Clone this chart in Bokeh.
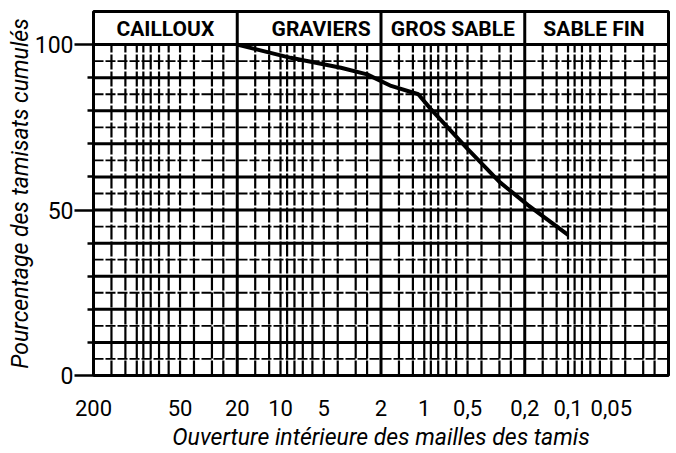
import numpy as np
from bokeh.plotting import figure
from bokeh.models import Range1d, FixedTicker, CustomJSTickFormatter
from bokeh.core.properties import value
from bokeh.embed import file_html
from bokeh.resources import INLINE

# ---- data ----
sizes_mm = [20, 8.5, 3.8, 2.5, 1.7, 1.1, 0.9, 0.5, 0.3, 0.19, 0.1]
passing_pct = [100, 96, 93, 91, 87.5, 85, 80.5, 68.5, 58.5, 51.5, 42.5]

x_tick_values = [200, 50, 20, 10, 5, 2, 1, 0.5, 0.2, 0.1, 0.05]
x_tick_labels = ["200", "50", "20", "10", "5", "2", "1", "0,5", "0,2", "0,1", "0,05"]
y_tick_values = [0, 50, 100]

classes = ["CAILLOUX", "GRAVIERS", "GROS SABLE", "SABLE  FIN"]
class_upper = [200, 20, 2, 0.2]
class_lower = [20, 2, 0.2, 0.02]

x_title = "Ouverture intérieure des mailles des tamis"
y_title = "Pourcentage des tamisats cumulés"

X_MAX, X_MIN = 200, 0.02
HEADER_TOP = 110

FONT = value("Roboto")

p = figure(width=672, height=453, x_axis_type="log",
           x_range=Range1d(X_MAX, X_MIN), y_range=Range1d(0, HEADER_TOP),
           output_backend="svg", toolbar_location=None,
           min_border_left=93, min_border_right=4, min_border_top=11, min_border_bottom=75,
           background_fill_color="white", border_fill_color="white")
p.xgrid.visible = False
p.ygrid.visible = False
p.outline_line_color = "black"
p.outline_line_width = 3

# ---- log grid (vertical lines) ----
mant = [1, 1.2, 1.5, 2, 2.5, 3, 4, 5, 6, 7, 8, 9]
vx = [m * 10.0 ** k for k in range(-2, 3) for m in mant]
vx = [v for v in vx if X_MIN < v < X_MAX and not any(abs(v - b) < 1e-9 for b in class_lower)]
p.segment(x0=vx, y0=[0] * len(vx), x1=vx, y1=[100] * len(vx),
          line_color="black", line_width=2.2, line_dash="15 2")

# horizontal grid
h_major = list(range(10, 101, 10))
h_minor = list(range(5, 100, 10))
p.segment(x0=[X_MAX] * len(h_minor), y0=h_minor, x1=[X_MIN] * len(h_minor), y1=h_minor,
          line_color="black", line_width=1.8, line_dash="10 2")
p.segment(x0=[X_MAX] * len(h_major), y0=h_major, x1=[X_MIN] * len(h_major), y1=h_major,
          line_color="black", line_width=3)

# class boundaries through header
bounds = class_lower[:-1]
p.segment(x0=bounds, y0=[0] * len(bounds), x1=bounds, y1=[HEADER_TOP] * len(bounds),
          line_color="black", line_width=3)

# header labels
label_x = [float(np.sqrt(a * b)) for a, b in zip(class_upper, class_lower)]
p.text(x=label_x, y=[104.7] * len(classes), text=classes,
       x_offset=[0, 12, 0, 0],
       text_align="center", text_baseline="middle",
       text_font=FONT, text_font_style="bold", text_font_size="21px", text_color="black")

# curve
p.line(sizes_mm, passing_pct, line_color="black", line_width=4)

# ---- axes ----
xa = p.xaxis[0]
xa.ticker = FixedTicker(ticks=x_tick_values, minor_ticks=[])
xa.formatter = CustomJSTickFormatter(args=dict(vals=x_tick_values, labs=x_tick_labels), code="""
const i = vals.findIndex(v => Math.abs(v - tick) < 1e-6 * Math.max(1, v));
return i >= 0 ? labs[i] : '';
""")
xa.axis_line_color = None
xa.major_tick_line_color = None
xa.minor_tick_line_color = None
xa.major_label_standoff = 18
xa.major_label_text_font = "Roboto"
xa.major_label_text_font_size = "22px"
xa.major_label_text_color = "black"
xa.axis_label = x_title
xa.axis_label_text_font = "Roboto"
xa.axis_label_text_font_style = "italic"
xa.axis_label_text_font_size = "23px"
xa.axis_label_text_color = "black"
xa.axis_label_standoff = 5

ya = p.yaxis[0]
ya.ticker = FixedTicker(ticks=y_tick_values, minor_ticks=[10, 20, 30, 40, 60, 70, 80, 90])
ya.axis_line_color = None
ya.major_tick_out = 19
ya.major_tick_in = 0
ya.major_tick_line_width = 2.5
ya.major_tick_line_color = "black"
ya.minor_tick_out = 6
ya.minor_tick_in = 0
ya.minor_tick_line_width = 2.5
ya.minor_tick_line_color = "black"
ya.major_label_standoff = 1
ya.major_label_text_font = "Roboto"
ya.major_label_text_font_size = "23px"
ya.major_label_text_color = "black"
ya.axis_label = y_title
ya.axis_label_text_font = "Roboto"
ya.axis_label_text_font_style = "italic"
ya.axis_label_text_font_size = "23px"
ya.axis_label_text_color = "black"
ya.axis_label_standoff = -2

open("out.html", "w").write(file_html(p, INLINE))
